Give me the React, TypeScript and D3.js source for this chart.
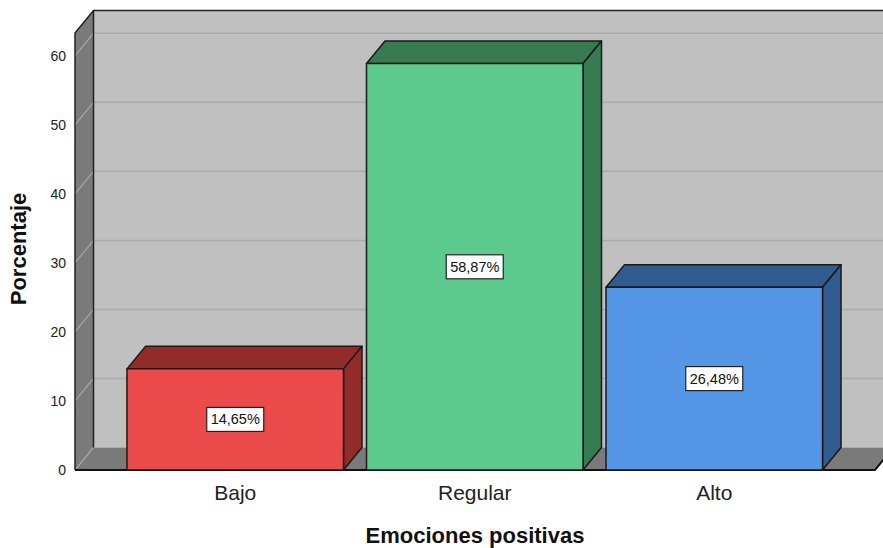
import React from "react";
import * as d3 from "d3";

const categories = ["Bajo", "Regular", "Alto"];
const values = [14.65, 58.87, 26.48];
const valueLabels = ["14,65%", "58,87%", "26,48%"];
const yTicks = [0, 10, 20, 30, 40, 50, 60];
const frontColors = ["#EC4B4C", "#5CCA8C", "#5596E6"];
const sideColors = ["#932B2B", "#387A52", "#325B8F"];

const W = 883;
const H = 548;
const FONT = "'Liberation Sans', Arial, sans-serif";

// depth offset of the 3D box (back plane relative to front plane)
const DX = 18.5;
const DY = -22.5;

export default function App() {
  const left = 75;
  const right = 875;
  const y = d3.scaleLinear().domain([0, 63.3]).range([470, 33]);
  const x = d3
    .scaleBand<string>()
    .domain(categories)
    .range([115, 834.5])
    .paddingInner(0.096)
    .paddingOuter(0.05);

  const y0 = y(0);
  const yTop = y(63.3);
  const pts = (p: [number, number][]) => p.map((q) => q.join(",")).join(" ");

  return (
    <svg
      width={W}
      height={H}
      style={{ position: "absolute", left: 0, top: 0, background: "#fff" }}
      fontFamily={FONT}
    >
      {/* back wall */}
      <rect x={left + DX} y={yTop + DY} width={right - left} height={y0 - yTop} fill="#C0C0C0" />
      {/* left wall */}
      <polygon
        points={pts([
          [left, yTop],
          [left + DX, yTop + DY],
          [left + DX, y0 + DY],
          [left, y0],
        ])}
        fill="#7A7A7A"
      />
      {/* floor */}
      <polygon
        points={pts([
          [left, y0],
          [left + DX, y0 + DY],
          [right + DX, y0 + DY],
          [right, y0],
        ])}
        fill="#7A7A7A"
      />
      {/* grid lines on back wall and left wall */}
      {yTicks.map((t) => (
        <g key={`g${t}`}>
          {t > 0 && (
            <line
              x1={left + DX}
              x2={right + DX}
              y1={y(t) + DY}
              y2={y(t) + DY}
              stroke="#ABABAB"
              strokeWidth={1.5}
            />
          )}
          <line
            x1={left}
            x2={left + DX}
            y1={y(t)}
            y2={y(t) + DY}
            stroke="#A8A8A8"
            strokeWidth={1.2}
          />
        </g>
      ))}
      {/* outlines of walls */}
      <polyline
        points={pts([
          [left, y0],
          [left, yTop],
          [left + DX, yTop + DY],
          [right + DX + 20, yTop + DY],
        ])}
        fill="none"
        stroke="#222"
        strokeWidth={1.5}
      />
      <line x1={left + DX} x2={left + DX} y1={yTop + DY} y2={y0 + DY} stroke="#222" strokeWidth={1.5} />
      <polyline
        points={pts([
          [left, y0],
          [right, y0],
          [right + DX, y0 + DY],
        ])}
        fill="none"
        stroke="#111"
        strokeWidth={2}
      />

      {/* bars */}
      {categories.map((c, i) => {
        const x0 = x(c)!;
        const x1 = x0 + x.bandwidth();
        const yt = y(values[i]);
        return (
          <g key={c} stroke="#1a1a1a" strokeWidth={1.5} strokeLinejoin="round">
            <polygon
              points={pts([
                [x0, yt],
                [x0 + DX, yt + DY],
                [x1 + DX, yt + DY],
                [x1, yt],
              ])}
              fill={sideColors[i]}
            />
            <polygon
              points={pts([
                [x1, yt],
                [x1 + DX, yt + DY],
                [x1 + DX, y0 + DY],
                [x1, y0],
              ])}
              fill={sideColors[i]}
            />
            <rect x={x0} y={yt} width={x1 - x0} height={y0 - yt} fill={frontColors[i]} />
          </g>
        );
      })}

      {/* value labels */}
      {categories.map((c, i) => {
        const cx = x(c)! + x.bandwidth() / 2;
        const cy = y(values[i] / 2);
        const w = 57;
        const h = 24;
        return (
          <g key={`l${c}`}>
            <rect
              x={cx - w / 2}
              y={cy - h / 2}
              width={w}
              height={h}
              fill="#fff"
              stroke="#222"
              strokeWidth={1.2}
            />
            <text x={cx} y={cy + 5} textAnchor="middle" fontSize={14.5} fill="#111">
              {valueLabels[i]}
            </text>
          </g>
        );
      })}

      {/* y tick labels */}
      {yTicks.map((t) => (
        <text key={`t${t}`} x={66} y={y(t) + 5} textAnchor="end" fontSize={14} fill="#222">
          {t}
        </text>
      ))}

      {/* x tick labels */}
      {categories.map((c) => (
        <text
          key={`x${c}`}
          x={x(c)! + x.bandwidth() / 2}
          y={500}
          textAnchor="middle"
          fontSize={21}
          fill="#222"
        >
          {c}
        </text>
      ))}

      {/* axis titles */}
      <text
        x={475}
        y={543}
        textAnchor="middle"
        fontSize={22}
        fontWeight="bold"
        fill="#111"
      >
        Emociones positivas
      </text>
      <text
        transform={`translate(26,249) rotate(-90)`}
        textAnchor="middle"
        fontSize={22}
        fontWeight="bold"
        fill="#111"
      >
        Porcentaje
      </text>
    </svg>
  );
}
